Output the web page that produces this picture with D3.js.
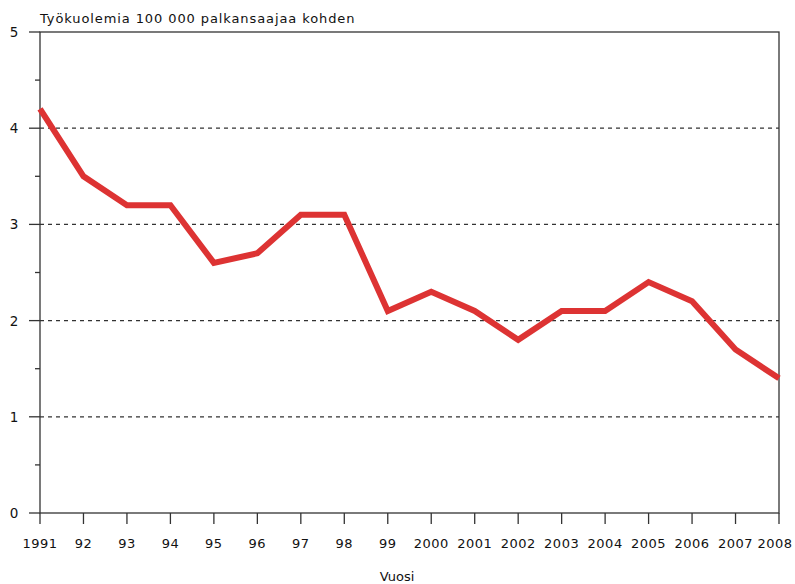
<!DOCTYPE html>
<html>

<head>
  <script src="https://d3js.org/d3.v7.min.js"></script>
  <style>
    body { margin: 0; background: #fff; }
    text { font-family: "DejaVu Sans", sans-serif; fill: #111; }
  </style>
</head>

<body>

  <div id="chart"></div>

  <script>
    // yearly work-related deaths per 100 000 employees
    const years = [1991, 1992, 1993, 1994, 1995, 1996, 1997, 1998, 1999,
      2000, 2001, 2002, 2003, 2004, 2005, 2006, 2007, 2008];
    const yearLabels = ["1991", "92", "93", "94", "95", "96", "97", "98", "99",
      "2000", "2001", "2002", "2003", "2004", "2005", "2006", "2007", "2008"];
    const deaths = [4.2, 3.5, 3.2, 3.2, 2.6, 2.7, 3.1, 3.1, 2.1,
      2.3, 2.1, 1.8, 2.1, 2.1, 2.4, 2.2, 1.7, 1.4];
    const yTicks = [0, 1, 2, 3, 4, 5];

    const width = 795;
    const height = 584;
    const plotLeft = 40, plotRight = 779, plotTop = 32, plotBottom = 513;

    var svg = d3.select("#chart")
      .append("svg")
      .attr("width", width)
      .attr("height", height);

    var x = d3.scaleLinear().domain([1991, 2008]).range([plotLeft, plotRight]);
    var y = d3.scaleLinear().domain([0, 5]).range([plotBottom, plotTop]);

    // dashed grid
    svg.append("g")
      .selectAll("line")
      .data([1, 2, 3, 4])
      .enter().append("line")
      .attr("x1", plotLeft).attr("x2", plotRight)
      .attr("y1", d => y(d)).attr("y2", d => y(d))
      .attr("stroke", "#333")
      .attr("stroke-width", 1.3)
      .attr("stroke-dasharray", "4,4");

    // frame
    svg.append("rect")
      .attr("x", plotLeft).attr("y", plotTop)
      .attr("width", plotRight - plotLeft).attr("height", plotBottom - plotTop)
      .attr("fill", "none")
      .attr("stroke", "#333")
      .attr("stroke-width", 1.3);

    // y axis
    var yAxis = svg.append("g");
    yAxis.selectAll(".major")
      .data(yTicks)
      .enter().append("line")
      .attr("x1", 29).attr("x2", plotLeft)
      .attr("y1", d => y(d)).attr("y2", d => y(d))
      .attr("stroke", "#333").attr("stroke-width", 1.3);
    yAxis.selectAll(".minor")
      .data([0.5, 1.5, 2.5, 3.5, 4.5])
      .enter().append("line")
      .attr("x1", 35).attr("x2", plotLeft)
      .attr("y1", d => y(d)).attr("y2", d => y(d))
      .attr("stroke", "#333").attr("stroke-width", 1.3);
    yAxis.selectAll("text")
      .data(yTicks)
      .enter().append("text")
      .attr("x", 14).attr("y", d => y(d) + 5)
      .attr("text-anchor", "middle")
      .style("font-size", "13.5px")
      .text(d => d);

    // x axis
    var xAxis = svg.append("g");
    xAxis.selectAll("line")
      .data(years)
      .enter().append("line")
      .attr("x1", d => x(d)).attr("x2", d => x(d))
      .attr("y1", plotBottom).attr("y2", plotBottom + 11)
      .attr("stroke", "#333").attr("stroke-width", 1.3);
    xAxis.selectAll("text")
      .data(years)
      .enter().append("text")
      .attr("x", d => x(d)).attr("y", 548)
      .attr("dx", (d, i) => i === years.length - 1 ? -4 : 0) // keep last label on the page
      .attr("text-anchor", "middle")
      .style("font-size", "13px")
      .style("letter-spacing", "0.5px")
      .text((d, i) => yearLabels[i]);

    svg.append("text")
      .attr("x", 40).attr("y", 23)
      .style("font-size", "13px")
      .style("letter-spacing", "0.9px")
      .text("Työkuolemia 100 000 palkansaajaa kohden");

    svg.append("text")
      .attr("x", 397).attr("y", 581)
      .attr("text-anchor", "middle")
      .style("font-size", "13px")
      .text("Vuosi");

    // data line
    var line = d3.line()
      .x((d, i) => x(years[i]))
      .y(d => y(d));

    svg.append("path")
      .datum(deaths)
      .attr("d", line)
      .attr("fill", "none")
      .attr("stroke", "#dd3333")
      .attr("stroke-width", 6)
      .attr("stroke-linejoin", "miter");
  </script>
</body>

</html>
